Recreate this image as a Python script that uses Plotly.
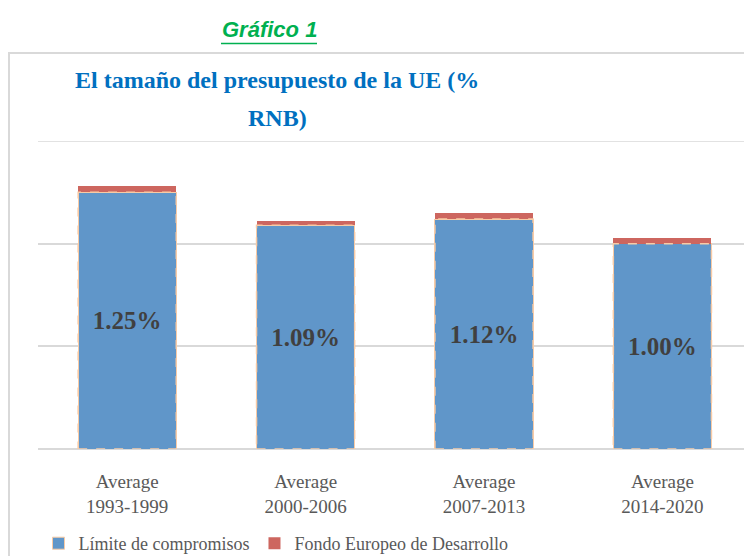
import plotly.graph_objects as go

categories = ["Average<br>1993-1999", "Average<br>2000-2006", "Average<br>2007-2013", "Average<br>2014-2020"]
limite = [1.25, 1.09, 1.12, 1.00]
fondo = [0.03, 0.02, 0.03, 0.03]
limite_labels = ["1.25%", "1.09%", "1.12%", "1.00%"]
series_names = ["Límite de compromisos", "Fondo Europeo de Desarrollo"]

# page body has an 8px margin; build the figure so it fits the 752-wide window
OFF = 8
W, H = 752 - 2 * OFF, 556
L, R = 38 - OFF, W
T, B = 141 - OFF, 449 - OFF
pw, ph = R - L, B - T
CAT_PX = 178.4
X_RANGE = [-0.5, -0.5 + pw / CAT_PX]


def px(x):
    # x given in reference-window pixels
    return (x - OFF - L) / pw


def py(y):
    return (B - (y - OFF)) / ph


BAR_W = 0.55
SERIF = "Liberation Serif, Times New Roman, serif"

fig = go.Figure()
fig.add_trace(go.Bar(
    x=categories, y=limite, name=series_names[0], width=BAR_W,
    marker=dict(color="#6096C9", line=dict(color="#F8CBA6", width=1)),
    text=limite_labels, textposition="inside", insidetextanchor="middle",
    textfont=dict(family=SERIF, size=25, color="#404040", weight="bold"),
    hoverinfo="skip",
))
fig.add_trace(go.Bar(
    x=categories, y=fondo, name=series_names[1], width=BAR_W,
    marker=dict(color="#CD665F", line=dict(width=0)),
    hoverinfo="skip",
))

shapes = []
# top gridline (1.5)
shapes.append(dict(type="line", xref="paper", yref="y", x0=0, x1=1, y0=1.5, y1=1.5,
                   line=dict(color="#D9D9D9", width=1.5), layer="below"))
# dashed outline on blue bars
for i, v in enumerate(limite):
    shapes.append(dict(type="rect", xref="x", yref="y",
                       x0=i - BAR_W / 2, x1=i + BAR_W / 2, y0=0, y1=v,
                       line=dict(color="#F8CBA6", width=1.5, dash="dash"),
                       fillcolor="rgba(0,0,0,0)", layer="above"))
# chart box border
shapes.append(dict(type="line", xref="paper", yref="paper",
                   x0=px(8), x1=px(760), y0=py(53), y1=py(53),
                   line=dict(color="#D9D9D9", width=2)))
shapes.append(dict(type="line", xref="paper", yref="paper",
                   x0=px(9), x1=px(9), y0=py(53), y1=py(570),
                   line=dict(color="#D9D9D9", width=2)))
# underline of Gráfico 1
shapes.append(dict(type="line", xref="paper", yref="paper",
                   x0=px(221), x1=px(317), y0=py(43.5), y1=py(43.5),
                   line=dict(color="#00B050", width=1.5)))

annotations = [
    dict(text="<b><i>Gráfico 1</i></b>", xref="paper", yref="paper",
         x=px(269), y=py(30), xanchor="center", yanchor="middle", showarrow=False,
         font=dict(family="Liberation Sans Narrow, Arial Narrow, Liberation Sans, Arial", size=22, color="#00B050")),
    dict(text="<b>El tamaño del presupuesto de la UE (%</b>", xref="paper", yref="paper",
         x=px(277), y=py(80), xanchor="center", yanchor="middle", showarrow=False,
         font=dict(family=SERIF, size=24, color="#0070C0")),
    dict(text="<b>RNB)</b>", xref="paper", yref="paper",
         x=px(277), y=py(118), xanchor="center", yanchor="middle", showarrow=False,
         font=dict(family=SERIF, size=24, color="#0070C0")),
]

fig.update_layout(
    width=W, height=H,
    margin=dict(l=L, r=W - R, t=T, b=H - B, pad=0, autoexpand=False),
    paper_bgcolor="white", plot_bgcolor="white",
    barmode="stack",
    showlegend=True,
    legend=dict(orientation="h", x=px(276), xanchor="center", y=py(525), yanchor="top",
                font=dict(family=SERIF, size=18, color="#595959"),
                itemwidth=30, traceorder="normal", bgcolor="rgba(0,0,0,0)"),
    xaxis=dict(range=X_RANGE, showgrid=False, zeroline=False, showline=False,
               ticks="", ticklabelstandoff=19, automargin=False,
               tickfont=dict(family=SERIF, size=19, color="#595959")),
    yaxis=dict(range=[0, 1.5], dtick=0.5, showgrid=True, gridcolor="#D9D9D9", gridwidth=1.5,
               zeroline=True, zerolinecolor="#D9D9D9", zerolinewidth=1.5, automargin=False,
               showticklabels=False, ticks="", showline=False),
    shapes=shapes,
    annotations=annotations,
    font=dict(family=SERIF),
)

fig.write_html("out.html")
